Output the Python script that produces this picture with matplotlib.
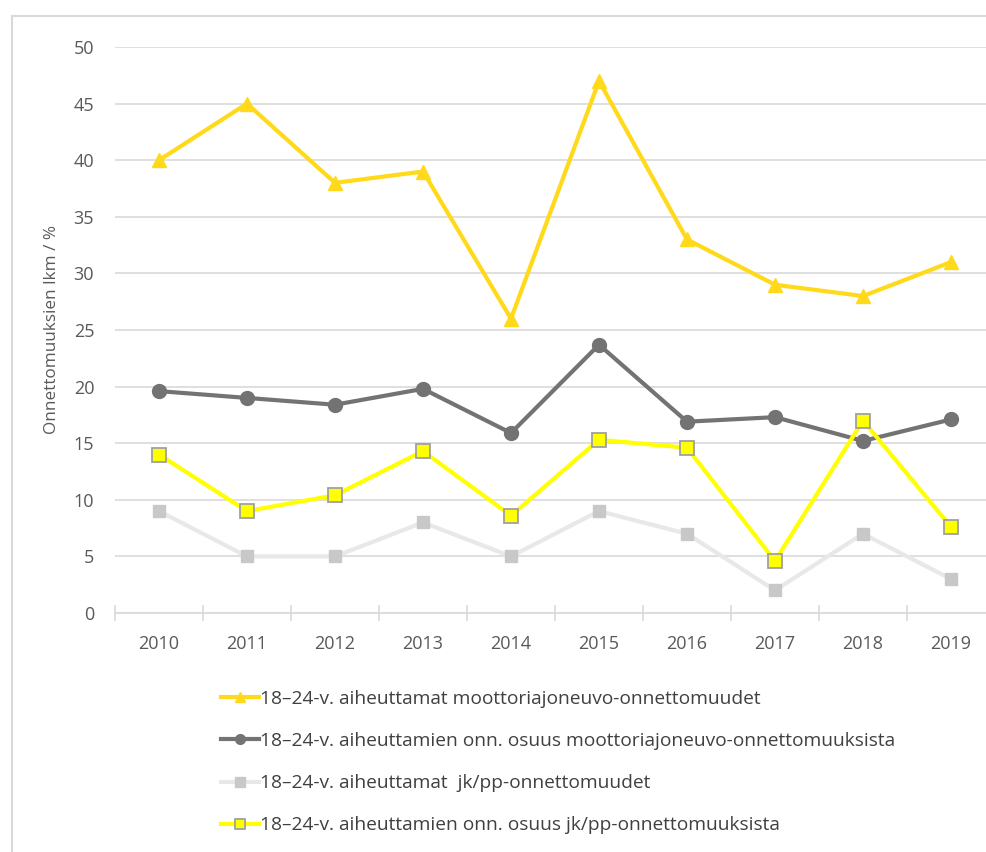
import matplotlib
matplotlib.use("Agg")
import matplotlib.pyplot as plt
from matplotlib.patches import Rectangle

years = ["2010", "2011", "2012", "2013", "2014", "2015", "2016", "2017", "2018", "2019"]
moottori_lkm = [40, 45, 38, 39, 26, 47, 33, 29, 28, 31]
moottori_osuus = [19.6, 19.0, 18.4, 19.8, 15.9, 23.7, 16.9, 17.3, 15.2, 17.1]
jkpp_lkm = [9, 5, 5, 8, 5, 9, 7, 2, 7, 3]
jkpp_osuus = [14.0, 9.0, 10.4, 14.3, 8.6, 15.3, 14.6, 4.6, 17.0, 7.6]

labels = [
    "18\u201324-v. aiheuttamat moottoriajoneuvo-onnettomuudet",
    "18\u201324-v. aiheuttamien onn. osuus moottoriajoneuvo-onnettomuuksista",
    "18\u201324-v. aiheuttamat  jk/pp-onnettomuudet",
    "18\u201324-v. aiheuttamien onn. osuus jk/pp-onnettomuuksista",
]
yticks = [0, 5, 10, 15, 20, 25, 30, 35, 40, 45, 50]

plt.rcParams['font.family'] = ['Open Sans', 'DejaVu Sans']

W, H = 987, 852
fig = plt.figure(figsize=(W / 100, H / 100), dpi=100)

# outer chart border
fig.patches.append(Rectangle((12 / W, -0.05), 1.2, (852 - 16) / H + 0.05,
                             transform=fig.transFigure, fill=False,
                             edgecolor='#D9D9D9', linewidth=1.5))

left, right_px, top, bottom = 115, 995, 47, 613
ax = fig.add_axes([left / W, (H - bottom) / H, (right_px - left) / W, (bottom - top) / H])

x = list(range(len(years)))
ax.plot(x, moottori_lkm, color='#FFD91A', lw=3.0, marker='^', markersize=10,
        markerfacecolor='#FFD91A', markeredgecolor='#FFD91A', label=labels[0], zorder=5)
ax.plot(x, moottori_osuus, color='#737373', lw=3.0, marker='o', markersize=10,
        markerfacecolor='#737373', markeredgecolor='#737373', label=labels[1], zorder=4)
ax.plot(x, jkpp_lkm, color='#E8E8E8', lw=3.0, marker='s', markersize=9,
        markerfacecolor='#C8C8C8', markeredgecolor='#C8C8C8', label=labels[2], zorder=3)
ax.plot(x, jkpp_osuus, color='#FFFF00', lw=3.0, marker='s', markersize=10,
        markerfacecolor='#FFFF00', markeredgecolor='#A0A0A0', markeredgewidth=1.3,
        label=labels[3], zorder=6)

ax.set_xlim(-0.5, len(years) - 0.5)
ax.set_ylim(0, 50)
ax.set_yticks(yticks)
ax.set_yticklabels([str(v) for v in yticks])
ax.set_xticks(x)
ax.set_xticklabels(years)
ax.set_xticks([i - 0.5 for i in range(len(years) + 1)], minor=True)

ax.grid(axis='y', color='#D9D9D9', lw=1.2, zorder=0)
ax.set_axisbelow(True)
for s in ['top', 'right', 'left']:
    ax.spines[s].set_visible(False)
ax.spines['bottom'].set_color('#D9D9D9')
ax.spines['bottom'].set_linewidth(1.2)

ax.tick_params(axis='y', length=0, pad=15, labelsize=13, labelcolor='#595959')
ax.tick_params(axis='x', which='major', length=0, pad=16, labelsize=13, labelcolor='#595959')
ax.tick_params(axis='x', which='minor', direction='inout', length=11, width=1.2, color='#D9D9D9')

ax.set_ylabel("Onnettomuuksien lkm / %", fontsize=12.3, color='#595959', labelpad=10)

leg = fig.legend(loc='upper left', bbox_to_anchor=(221 / W, (H - 690) / H),
                 frameon=False, fontsize=13.8, handlelength=2.0, handletextpad=0.05,
                 labelspacing=1.26, borderaxespad=0, borderpad=0)
for t in leg.get_texts():
    t.set_color('#404040')
for h in leg.legend_handles:
    h.set_markersize(7)

fig.savefig("out.png", dpi=100)
